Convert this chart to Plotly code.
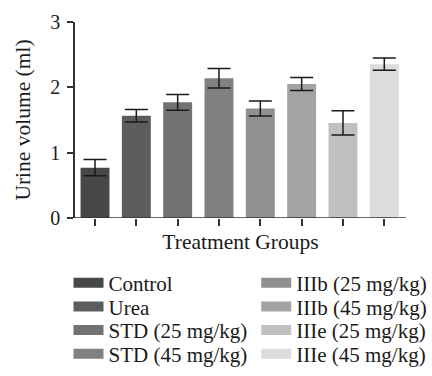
import plotly.graph_objects as go

groups = ["Control", "Urea", "STD (25 mg/kg)", "STD (45 mg/kg)",
          "IIIb (25 mg/kg)", "IIIb (45 mg/kg)", "IIIe (25 mg/kg)", "IIIe (45 mg/kg)"]
volume = [0.77, 1.565, 1.77, 2.14, 1.675, 2.05, 1.455, 2.355]
sem = [0.125, 0.095, 0.12, 0.15, 0.115, 0.10, 0.185, 0.095]
colors = ["#464847", "#5c5e5d", "#727272", "#818181",
          "#909090", "#a3a3a3", "#c0c0bf", "#dcdcdc"]
y_ticks = [0, 1, 2, 3]

FONT = "Liberation Serif"
L, R, T, B = 74.5, 26, 22, 157.7
W, H = 432, 376
pw = W - L - R
ph = H - T - B

fig = go.Figure()
fig.add_trace(go.Bar(
    x=list(range(len(groups))), y=volume,
    marker=dict(color=colors, line=dict(width=0)),
    width=0.7,
    error_y=dict(type="data", array=sem, color="#1a1a1a", thickness=1.5, width=11.5),
    showlegend=False,
))

# legend entries: two columns of four
col_px = [68, 256]
row_px = [283.5, 307.2, 330.9, 354.6]
for i, (g, c) in enumerate(zip(groups, colors)):
    col, row = divmod(i, 4)
    lname = "legend" if i == 0 else f"legend{i+1}"
    fig.add_trace(go.Scatter(
        x=[None], y=[None], mode="lines", name=g,
        line=dict(color=c, width=10), legend=lname,
    ))
    fig.update_layout(**{lname: dict(
        x=(col_px[col] - L) / pw, y=(T + ph - row_px[row]) / ph,
        xanchor="left", yanchor="middle",
        bgcolor="rgba(0,0,0,0)", borderwidth=0,
        font=dict(family=FONT, size=21, color="#1a1a1a"),
        itemwidth=30,
    )})

fig.update_layout(
    width=W, height=H,
    margin=dict(l=L, r=R, t=T, b=B, autoexpand=False),
    plot_bgcolor="white", paper_bgcolor="white",
    font=dict(family=FONT, size=20, color="#1a1a1a"),
    xaxis=dict(
        range=[-0.484, 7.525], showgrid=False, zeroline=False,
        showline=False, showticklabels=False,
        tickmode="array", tickvals=list(range(len(groups))),
        ticks="outside", ticklen=7, tickwidth=1.5, tickcolor="#333333",
        title=dict(text="Treatment Groups", font=dict(size=21.5), standoff=8),
    ),
    yaxis=dict(
        range=[0, 3], showgrid=False, zeroline=False,
        showline=True, linewidth=1.5, linecolor="#333333",
        tickmode="array", tickvals=y_ticks,
        ticks="outside", ticklen=6, tickwidth=1.5, tickcolor="#333333",
        tickfont=dict(size=20), ticklabelstandoff=3,
        title=dict(text="Urine volume (ml)", font=dict(size=21.5), standoff=14),
    ),
    shapes=[dict(type="line", xref="paper", yref="y",
                 x0=-6.5 / pw, x1=1, y0=0, y1=0,
                 line=dict(color="#333333", width=1.5))],
)

fig.write_html("out.html", config={"displayModeBar": False},
               post_script="document.body.style.margin='0px';")
